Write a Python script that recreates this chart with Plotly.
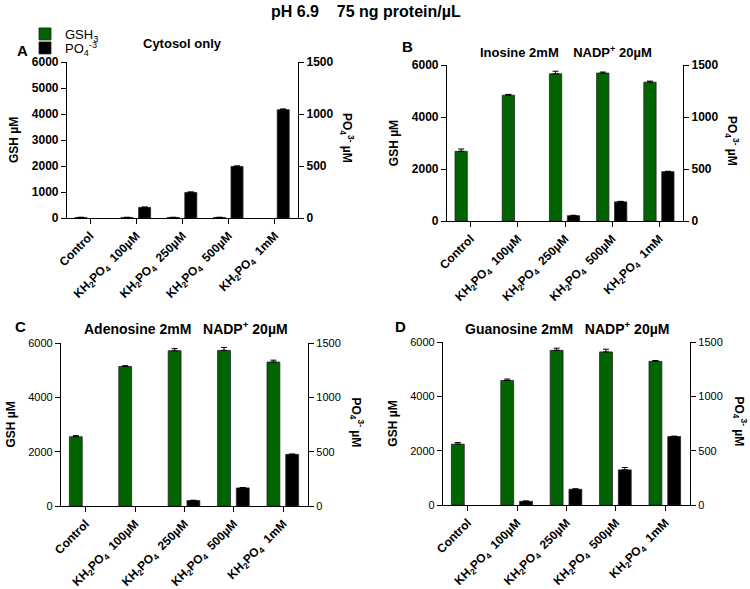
import plotly.graph_objects as go

W, H = 750, 589
FONT = "Arial, Liberation Sans, Helvetica, sans-serif"
GREEN = "#006400"

categories = ["Control", "KH<sub>2</sub>PO<sub>4</sub>  100µM", "KH<sub>2</sub>PO<sub>4</sub>  250µM",
              "KH<sub>2</sub>PO<sub>4</sub>  500µM", "KH<sub>2</sub>PO<sub>4</sub>  1mM"]

# GSH (left axis, µM) and PO4 3- (right axis, µM) per panel
gsh_a = [20, 20, 20, 20, None]
gsh_a_err = [8, 8, 8, 8, 0]
po4_a = [None, 102, 246, 496, 1041]
po4_a_err = [0, 4, 5, 5, 8]

gsh_b = [2680, 4840, 5660, 5690, 5340]
gsh_b_err = [90, 30, 100, 40, 40]
po4_b = [None, None, 51, 184, 474]
po4_b_err = [0, 0, 4, 5, 4]

gsh_c = [2550, 5135, 5715, 5727, 5298]
gsh_c_err = [40, 30, 80, 110, 70]
po4_c = [None, None, 50, 166, 475]
po4_c_err = [0, 0, 3, 4, 3]

gsh_d = [2239, 4586, 5693, 5634, 5288]
gsh_d_err = [60, 50, 80, 100, 30]
po4_d = [None, 34, 145, 323, 630]
po4_d_err = [0, 3, 4, 22, 4]

gsh_ticks_a = [0, 1000, 2000, 3000, 4000, 5000, 6000]
gsh_ticks = [0, 2000, 4000, 6000]
po4_ticks = [0, 500, 1000, 1500]

# panel: data, pixel box [x0, x1, ytop, ybottom], bold ticks, label, subtitle
panels = [
    (gsh_a, gsh_a_err, po4_a, po4_a_err, (67, 298, 62, 218), True, gsh_ticks_a,
     "A", (22, 50), "Cytosol only", (182, 43), 13),
    (gsh_b, gsh_b_err, po4_b, po4_b_err, (447, 683, 65, 221), True, gsh_ticks,
     "B", (407, 47), "Inosine 2mM    NADP<sup>+</sup> 20µM", (566, 52), 13),
    (gsh_c, gsh_c_err, po4_c, po4_c_err, (61, 308, 343, 506), False, gsh_ticks,
     "C", (20, 326), "Adenosine 2mM   NADP<sup>+</sup> 20µM", (186, 328), 14),
    (gsh_d, gsh_d_err, po4_d, po4_d_err, (443, 690, 342, 505), False, gsh_ticks,
     "D", (401, 326), "Guanosine 2mM   NADP<sup>+</sup> 20µM", (567, 328), 14),
]

fig = go.Figure()
layout = {}
annotations = []

for i, (gsh, gsh_err, po4, po4_err, box, bold, lticks, lab, lab_pos, sub, sub_pos, sub_size) in enumerate(panels):
    k = i + 1
    xname = "x" if k == 1 else f"x{k}"
    yl = 2 * k - 1
    yr = 2 * k
    ylname = "y" if yl == 1 else f"y{yl}"
    yrname = f"y{yr}"
    x0, x1, yt, yb = box
    xdom = [x0 / W, x1 / W]
    ydom = [(H - yb) / H, (H - yt) / H]

    fig.add_trace(go.Bar(
        x=list(range(5)), y=gsh, xaxis=xname, yaxis=ylname,
        name="GSH<sub>3</sub>", showlegend=(k == 1), legend="legend",
        marker=dict(color=GREEN, line=dict(color="#222", width=0.8)),
        width=0.26, offset=-0.33,
        error_y=dict(type="data", array=gsh_err, arrayminus=[0] * 5, symmetric=False,
                     color="black", thickness=1, width=3),
    ))
    fig.add_trace(go.Bar(
        x=list(range(5)), y=po4, xaxis=xname, yaxis=yrname,
        name="PO<sub>4</sub><sup>-3</sup>", showlegend=(k == 1), legend="legend2",
        marker=dict(color="black", line=dict(color="#222", width=0.8)),
        width=0.26, offset=0.05,
        error_y=dict(type="data", array=po4_err, arrayminus=[0] * 5, symmetric=False,
                     color="black", thickness=1, width=3),
    ))

    tickfont = dict(family=FONT, size=12 if bold else 11, color="black",
                    weight="bold" if bold else "normal")
    layout[f"xaxis{k if k > 1 else ''}"] = dict(
        domain=xdom, anchor=ylname, range=[-0.5, 4.5],
        tickmode="array", tickvals=list(range(5)), ticktext=categories, tickangle=-45,
        tickfont=dict(family=FONT, size=12, color="black", weight="bold"),
        showline=True, linecolor="black", linewidth=1.2, ticks="outside", ticklen=5,
        tickcolor="black", showgrid=False, zeroline=False,
    )
    layout[f"yaxis{yl if yl > 1 else ''}"] = dict(
        domain=ydom, anchor=xname, range=[0, 6000], tickvals=lticks,
        tickfont=tickfont, showline=True, linecolor="black", linewidth=1.2,
        ticks="outside", ticklen=5, tickcolor="black", showgrid=False, zeroline=False,
        title=dict(text="GSH µM", font=dict(family=FONT, size=12, color="black", weight="bold"),
                   standoff=10),
    )
    layout[f"yaxis{yr}"] = dict(
        overlaying=ylname, anchor=xname, side="right", range=[0, 1500], tickvals=po4_ticks,
        tickfont=tickfont, showline=True, linecolor="black", linewidth=1.2,
        ticks="outside", ticklen=5, tickcolor="black", showgrid=False, zeroline=False,
    )

    # right-axis title, reading top to bottom
    annotations.append(dict(
        text="PO<sub>4</sub><sup>3-</sup> µM", textangle=90, xref="paper", yref="paper",
        x=(x1 + 49) / W, y=(H - (yt + yb) / 2 + 2) / H, showarrow=False,
        xanchor="center", yanchor="middle",
        font=dict(family=FONT, size=12, color="black", weight="bold"),
    ))
    annotations.append(dict(
        text=lab, xref="paper", yref="paper", x=lab_pos[0] / W, y=(H - lab_pos[1]) / H,
        showarrow=False, xanchor="center", yanchor="middle",
        font=dict(family=FONT, size=15, color="black", weight="bold"),
    ))
    annotations.append(dict(
        text=sub, xref="paper", yref="paper", x=sub_pos[0] / W, y=(H - sub_pos[1]) / H,
        showarrow=False, xanchor="center", yanchor="middle",
        font=dict(family=FONT, size=sub_size, color="black", weight="bold"),
    ))

annotations.append(dict(
    text="pH 6.9    75 ng protein/µL", xref="paper", yref="paper", x=366 / W, y=(H - 12) / H,
    showarrow=False, xanchor="center", yanchor="middle",
    font=dict(family=FONT, size=16, color="black", weight="bold"),
))

legend_common = dict(xanchor="left", yanchor="middle", font=dict(family=FONT, size=13, color="black"),
                     itemwidth=30, bgcolor="rgba(0,0,0,0)", borderwidth=0)

fig.update_layout(
    **layout,
    annotations=annotations,
    width=W, height=H,
    margin=dict(l=0, r=0, t=0, b=0),
    template="none",
    plot_bgcolor="white", paper_bgcolor="white",
    font=dict(family=FONT, size=12, color="black"),
    showlegend=True,
    legend=dict(x=25 / W, y=(H - 34) / H, **legend_common),
    legend2=dict(x=25 / W, y=(H - 48) / H, **legend_common),
)

fig.write_html("out.html", config={"displayModeBar": False},
               post_script="document.body.style.margin='0';")
